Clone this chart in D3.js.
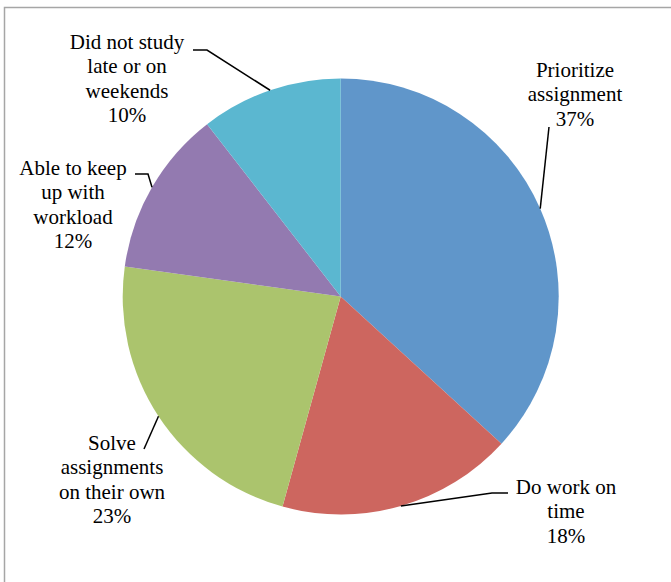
<!DOCTYPE html>
<html><head><meta charset="utf-8">
<script src="https://cdn.jsdelivr.net/npm/d3@7"></script>
<style>html,body{margin:0;padding:0;background:#fff;}svg{display:block;}
text{font-family:"Liberation Serif","Times New Roman",Times,"DejaVu Serif",serif;}</style>
</head><body>
<svg id="chart" width="671" height="582"></svg>
<script>
// Data
const categories = ["Prioritize assignment", "Do work on time", "Solve assignments on their own", "Able to keep up with workload", "Did not study late or on weekends"];
const values = [36.8, 17.5, 22.9, 12.3, 10.5];
const percentLabels = ["37%", "18%", "23%", "12%", "10%"];
const labelLines = [
  ["Prioritize", "assignment"],
  ["Do work on", "time"],
  ["Solve", "assignments", "on their own"],
  ["Able to keep", "up with", "workload"],
  ["Did not study", "late or on", "weekends"]
];
const colors = ["#6096ca", "#cd665f", "#abc46d", "#937ab0", "#5bb7d0"];

// Layout (label placement, as in the reference)
const labelLayout = [
  {cx: 575, y: 77,  lead: [[549,127]]},
  {cx: 566, y: 494, lead: [[508,493],[492,493]]},
  {cx: 112, y: 450, lead: [[144,449]]},
  {cx: 73,  y: 175, lead: [[135,174],[148,174]]},
  {cx: 127, y: 49,  lead: [[193,50],[207,50]]}
];

const svg = d3.select("#chart");
const W = 671, H = 582;
const cx = 340.7, cy = 296.5, r = 218;

// frame
svg.append("path").attr("d", `M4.5,${H} L4.5,7.5 L${W},7.5`)
  .attr("fill","none").attr("stroke","#a6a6a6").attr("stroke-width",1.5);

const pie = d3.pie().sort(null).value(d => d)(values);
const arc = d3.arc().innerRadius(0).outerRadius(r);
const edgeArc = d3.arc().innerRadius(r).outerRadius(r);

const g = svg.append("g").attr("transform", `translate(${cx},${cy})`);
g.selectAll("path.slice").data(pie).join("path")
  .attr("class","slice")
  .attr("d", arc)
  .attr("fill", (d,i) => colors[i]);

// leader lines
pie.forEach((d,i) => {
  const e = edgeArc.centroid(d);
  const pts = labelLayout[i].lead.map(p => [p[0], p[1]]).concat([[e[0]+cx, e[1]+cy]]);
  svg.append("path")
    .attr("d", d3.line()(pts))
    .attr("fill","none").attr("stroke","#000").attr("stroke-width",1.5);
});

// labels
pie.forEach((d,i) => {
  const L = labelLayout[i];
  const lines = labelLines[i].concat([percentLabels[i]]);
  const t = svg.append("text")
    .attr("x", L.cx).attr("y", L.y)
    .attr("text-anchor","middle")
    .style("font-family", '"Liberation Serif", "Times New Roman", Times, "DejaVu Serif", serif')
    .attr("font-size", 21).attr("fill","#000");
  lines.forEach((s,k) => {
    t.append("tspan").attr("x", L.cx).attr("dy", k === 0 ? 0 : 24.3).text(s);
  });
});
</script>
</body></html>
